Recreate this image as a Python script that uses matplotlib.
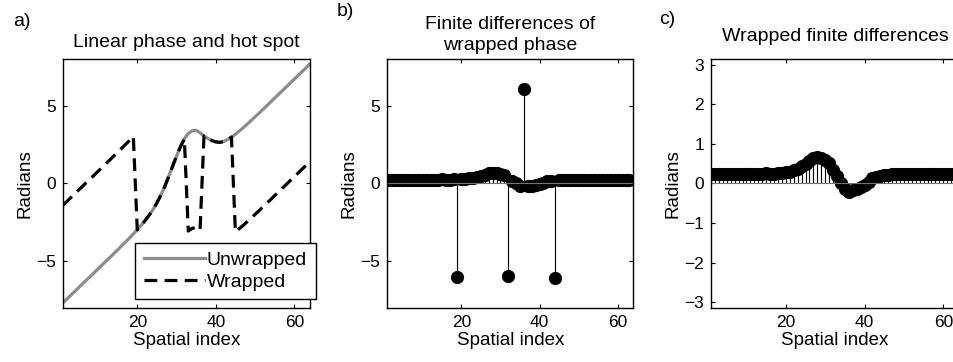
import numpy as np
import matplotlib
matplotlib.use('Agg')
import matplotlib.pyplot as plt

plt.rcParams['font.family'] = ['Liberation Sans', 'DejaVu Sans']

# spatial index of the samples
index = np.arange(1, 65)

# linear phase ramp with a hot spot bump around index 33 (radians)
unwrapped = np.array([
    -7.70, -7.46, -7.21, -6.97, -6.72, -6.48, -6.23, -5.99,
    -5.75, -5.50, -5.26, -5.01, -4.77, -4.52, -4.28, -4.02,
    -3.77, -3.52, -3.25, -2.98, -2.69, -2.39, -2.05, -1.68,
    -1.25, -0.76, -0.20, 0.45, 1.11, 1.76, 2.36, 2.88,
    3.22, 3.40, 3.42, 3.27, 3.06, 2.90, 2.77, 2.68,
    2.65, 2.70, 2.83, 2.99, 3.17, 3.38, 3.59, 3.82,
    4.05, 4.29, 4.52, 4.77, 5.01, 5.25, 5.50, 5.74,
    5.99, 6.23, 6.48, 6.72, 6.96, 7.21, 7.45, 7.70])

wrapped = np.angle(np.exp(1j * unwrapped))      # wrap into (-pi, pi]
diffWrapped = np.diff(wrapped)                   # finite differences of wrapped phase
wrappedDiff = np.angle(np.exp(1j * diffWrapped)) # wrapped finite differences
diffIndex = index[:-1]

titleSize = 14
labelSize = 13.5
tickSize = 12.5


def style_axes(ax):
    ax.tick_params(direction='in', top=True, right=True, length=3,
                   width=0.8, labelsize=tickSize, pad=5)
    for s in ax.spines.values():
        s.set_linewidth(1.0)
    ax.set_xlim(1, 64)
    ax.set_xticks([20, 40, 60])
    ax.set_xlabel('Spatial index', fontsize=labelSize, labelpad=2)
    ax.set_ylabel('Radians', fontsize=labelSize, labelpad=2)


def draw_stems(ax, x, y):
    markers, stems, base = ax.stem(x, y, linefmt='k-', markerfmt='ko', basefmt='-')
    markers.set_markersize(8.5)
    stems.set_linewidth(0.8)
    base.set_color('0.45')
    base.set_linewidth(0.8)
    base.set_xdata([1, 64])


fig = plt.figure(figsize=(9.54, 3.62), dpi=100)

# a) linear phase and hot spot
axA = fig.add_axes([0.0657, 0.150, 0.2592, 0.6862])
axA.plot(index, unwrapped, color='0.55', lw=2.3, label='Unwrapped')
axA.plot(index, wrapped, color='k', lw=2.3, ls=(0, (4.0, 2.3)), label='Wrapped')
style_axes(axA)
axA.set_ylim(-8, 8)
axA.set_yticks([-5, 0, 5])
axA.set_title('Linear phase and hot spot', fontsize=titleSize, pad=9)
leg = axA.legend(loc='lower left', bbox_to_anchor=(0.292, 0.034), borderaxespad=0,
                 fontsize=titleSize, handlelength=3.15, handletextpad=0.1,
                 labelspacing=0.2, borderpad=0.45, fancybox=False, framealpha=1)
leg.get_frame().set_edgecolor('k')
leg.get_frame().set_linewidth(1.0)

# b) finite differences of wrapped phase
axB = fig.add_axes([0.4057, 0.150, 0.2582, 0.6862])
draw_stems(axB, diffIndex, diffWrapped)
style_axes(axB)
axB.set_ylim(-8, 8)
axB.set_yticks([-5, 0, 5])
axB.set_title('Finite differences of\nwrapped phase', fontsize=titleSize,
              pad=7, linespacing=1.25)

# c) wrapped finite differences
axC = fig.add_axes([0.7453, 0.150, 0.2600, 0.6862])
draw_stems(axC, diffIndex, wrappedDiff)
style_axes(axC)
axC.set_ylim(-np.pi, np.pi)
axC.set_yticks([-3, -2, -1, 0, 1, 2, 3])
axC.set_title('Wrapped finite differences', fontsize=titleSize, pad=13)

fig.text(22 / 954, 1 - 21 / 362, 'a)', fontsize=titleSize, ha='center', va='center')
fig.text(345 / 954, 1 - 11 / 362, 'b)', fontsize=titleSize, ha='center', va='center')
fig.text(667 / 954, 1 - 19 / 362, 'c)', fontsize=titleSize, ha='center', va='center')

fig.savefig('out.png', dpi=100)
